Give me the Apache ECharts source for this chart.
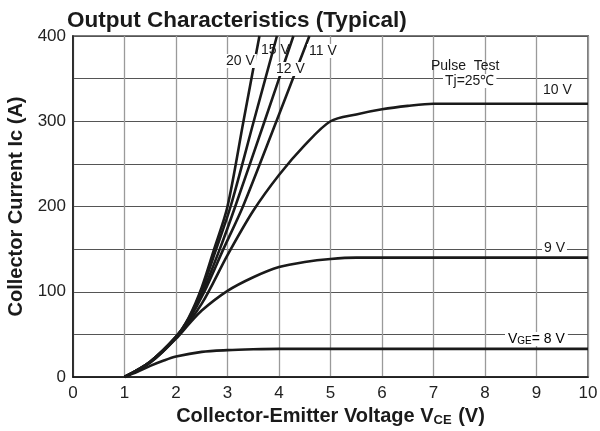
<!DOCTYPE html>
<html><head><meta charset="utf-8">
<script src="https://cdn.jsdelivr.net/npm/echarts@6/dist/echarts.min.js"></script>
<style>html,body{margin:0;padding:0;background:#fff}#c{width:600px;height:431px}</style>
</head><body><div id="c"></div>
<script>
// Data (VCE [V], Ic [A])
const vge8  = [[1,0],[1.25,6],[1.5,13],[1.75,19],[2,24],[2.5,29.5],[3,31.5],[3.5,32.5],[4,33],[10,33]];
const vge9  = [[1,0],[1.5,17],[2,45],[2.25,62],[2.5,78],[3,101],[3.5,117],[4,129],[4.5,135],[5,138.5],[5.5,140],[6,140],[10,140]];
const vge10 = [[1,0],[1.5,17],[2,46],[2.5,86],[3,143],[3.5,195],[4,237],[4.5,272],[5,300],[5.5,308],[6,314],[6.5,318],[7,320.5],[10,320.5]];
const vge11 = [[1,0],[1.5,18],[2,47],[2.25,67],[2.55,100],[2.92,150],[3.30,200],[3.95,300],[4.59,400]];
const vge12 = [[1,0],[1.5,18],[2,47],[2.25,68],[2.52,100],[2.85,150],[3.15,200],[3.72,300],[4.28,400]];
const vge15 = [[1,0],[1.5,18],[2,47],[2.25,69],[2.5,102],[2.78,150],[3.06,200],[3.51,300],[3.96,400]];
const vge20 = [[1,0],[1.5,18],[2,47],[2.25,70],[2.5,105],[2.74,150],[3.0,200],[3.31,300],[3.62,400]];
const xTicks = [0,1,2,3,4,5,6,7,8,9,10];
const yTicks = [0,100,200,300,400];

const chart = echarts.init(document.getElementById('c'));
const font = '"Liberation Sans", Arial, sans-serif';
function line(data){
  return {type:'line', data:data, showSymbol:false, smooth:0.3,
    lineStyle:{color:'#1a1a1a', width:2.6}, z:5, silent:true, clip:true};
}
function lab(text, x, y, extra){
  return Object.assign({type:'text', x:x, y:y, z:10, style:{text:text, font:'14px '+font, fill:'#1a1a1a',
    backgroundColor:'#fff', padding:[0,2]}}, extra||{});
}
chart.setOption({
  animation:false,
  backgroundColor:'#fff',
  grid:{left:73, right:12, top:36, bottom:54, outerBoundsMode:'none', containLabel:false,
    show:true, borderColor:'#7a7a7a', borderWidth:2, backgroundColor:'transparent'},
  xAxis:{type:'value', min:0, max:10, interval:1,
    axisLine:{show:true, onZero:false, lineStyle:{color:'#111', width:1.5}},
    axisTick:{show:false},
    splitLine:{show:true, lineStyle:{color:'#9a9a9a', width:1.3}},
    axisLabel:{fontFamily:font, fontSize:17, color:'#222', margin:8,
      formatter:v=>xTicks.includes(v)?String(v):''},
    name:'{b|Collector-Emitter Voltage V}{s|CE}{b| (V)}', nameLocation:'middle', nameGap:29,
    nameTextStyle:{rich:{b:{fontFamily:font, fontSize:20, fontWeight:'bold', color:'#1a1a1a'},
      s:{fontFamily:font, fontSize:13, fontWeight:'bold', color:'#1a1a1a', verticalAlign:'bottom', padding:[4,1,0,0]}}}
  },
  yAxis:{type:'value', min:0, max:400, interval:50,
    axisLine:{show:true, onZero:false, lineStyle:{color:'#111', width:1.5}},
    axisTick:{show:false},
    splitLine:{show:true, lineStyle:{color:'#555', width:1.1}},
    axisLabel:{fontFamily:font, fontSize:17, color:'#222', margin:7,
      formatter:v=>yTicks.includes(v)?String(v):''},
    name:'Collector Current Ic (A)', nameLocation:'middle', nameGap:46,
    nameTextStyle:{fontFamily:font, fontSize:20, fontWeight:'bold', color:'#1a1a1a'}
  },
  title:{text:'Output Characteristics (Typical)', left:62, top:4,
    textStyle:{fontFamily:font, fontSize:22.5, fontWeight:'bold', color:'#1a1a1a'}},
  series:[line(vge8),line(vge9),line(vge10),line(vge11),line(vge12),line(vge15),line(vge20)],
  graphic:[
    lab('20 V', 224, 54),
    lab('15 V', 261, 43, {style:{text:'15 V', font:'14px '+font, fill:'#1a1a1a', backgroundColor:'transparent'}}),
    lab('12 V', 274, 62),
    lab('11 V', 307, 44),
    lab('Pulse  Test', 431, 59, {style:{text:'Pulse  Test', font:'14px '+font, fill:'#1a1a1a'}}),
    lab('Tj=25℃', 443, 74),
    lab('10 V', 541, 83),
    lab('9 V', 542, 241),
    {type:'text', x:505, y:332, z:10, style:{
      text:'{s|V}{t|GE}{s|= 8 V}', backgroundColor:'#fff', padding:[0,3],
      rich:{s:{fontSize:14, fontFamily:font, color:'#1a1a1a'},
            t:{fontSize:10, fontFamily:font, color:'#1a1a1a', verticalAlign:'bottom', padding:[3,0,0,0]}}}}
  ]
});
</script></body></html>
